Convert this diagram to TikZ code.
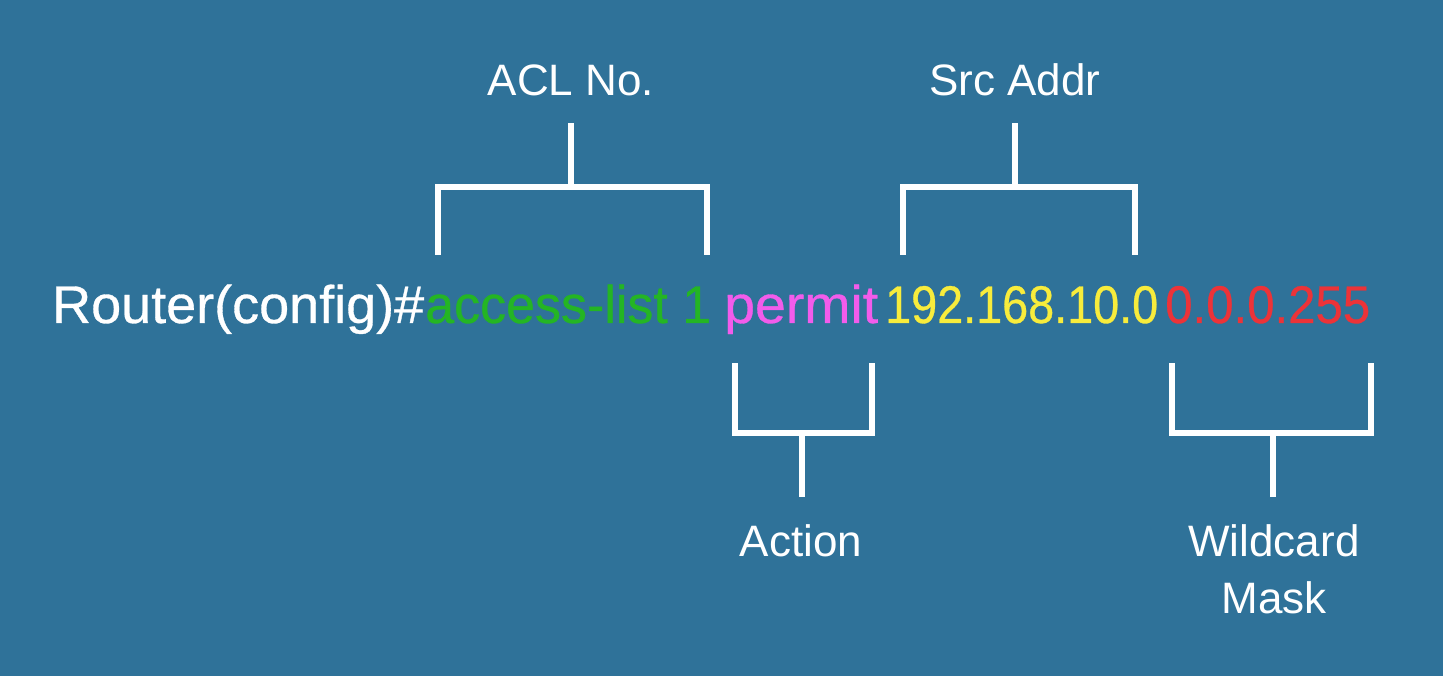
\documentclass[tikz,border=0pt]{standalone}
\usepackage{fontspec}
\setmainfont{Liberation Sans}
\newfontfamily\cmdfont[FakeBold=0.6]{Liberation Sans}
\usepackage{graphicx}
\definecolor{bgblue}{HTML}{2F7299}
\definecolor{aclgreen}{HTML}{24B524}
\definecolor{actpink}{HTML}{F25CEB}
\definecolor{srcyellow}{HTML}{F8EC3C}
\definecolor{maskred}{HTML}{EC3338}
\begin{document}
\begin{tikzpicture}[x=1pt,y=-1pt,
  seg/.style={anchor=base west,inner sep=0pt,font=\cmdfont\fontsize{53}{60}\selectfont},
  lbl/.style={anchor=base,inner sep=0pt,text=white,font=\fontsize{44}{57}\selectfont},
  brk/.style={draw=white,line width=6.5pt,line cap=butt,line join=miter}]
\fill[bgblue] (0,0) rectangle (1443,676);
\useasboundingbox (0,0) rectangle (1443,676);

% command text
\node[seg,text=white]     (cmd)  at (52,323)   {\resizebox{372pt}{\height}{Router(config)\#}};
\node[seg,text=aclgreen]  (acl)  at (425,323)  {\resizebox{286pt}{\height}{access-list 1}};
\node[seg,text=actpink]   (act)  at (724,323)  {\resizebox{154pt}{\height}{permit}};
\node[seg,text=srcyellow] (src)  at (885,323)  {\resizebox{273pt}{\height}{192.168.10.0}};
\node[seg,text=maskred]   (mask) at (1165,323) {\resizebox{205pt}{\height}{0.0.0.255}};

% labels
\node[lbl] (laclno) at (571,96)  {ACL No.};
\node[lbl] (lsrc)   at (1015,96) {Src Addr};
\node[lbl] (lact)   at (801,556) {Action};
\node[lbl,anchor=north,align=center] (lmask) at (1274,524) {Wildcard\\Mask};

% brackets above
\coordinate (aclL) at (438,255);
\coordinate (aclR) at (707,255);
\coordinate (aclM) at (571,187);
\coordinate (aclT) at (571,123);
\draw[brk] (aclL) |- (aclM) -| (aclR);
\draw[brk] (aclM) -- (aclT);

\coordinate (srcL) at (903,255);
\coordinate (srcR) at (1135,255);
\coordinate (srcM) at (1015,187);
\coordinate (srcT) at (1015,123);
\draw[brk] (srcL) |- (srcM) -| (srcR);
\draw[brk] (srcM) -- (srcT);

% brackets below
\coordinate (actL) at (735,363);
\coordinate (actR) at (872,363);
\coordinate (actM) at (802,433);
\coordinate (actB) at (802,497);
\draw[brk] (actL) |- (actM) -| (actR);
\draw[brk] (actM) -- (actB);

\coordinate (maskL) at (1172,363);
\coordinate (maskR) at (1371,363);
\coordinate (maskM) at (1273,433);
\coordinate (maskB) at (1273,497);
\draw[brk] (maskL) |- (maskM) -| (maskR);
\draw[brk] (maskM) -- (maskB);
\end{tikzpicture}
\end{document}
